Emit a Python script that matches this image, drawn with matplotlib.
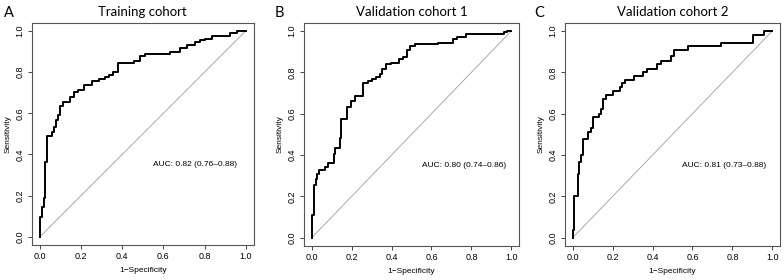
import numpy as np
import matplotlib
matplotlib.use('Agg')
import matplotlib.pyplot as plt

plt.rcParams['font.family'] = ['Liberation Sans', 'DejaVu Sans']

# ROC curves (knots: jump to tpr at fpr)
fpr_a = [0, 0, 0.01, 0.018, 0.024, 0.035, 0.061, 0.069, 0.079, 0.09, 0.097,
         0.11, 0.144, 0.168, 0.187, 0.212, 0.255, 0.286, 0.317, 0.338, 0.355,
         0.379, 0.459, 0.487, 0.511, 0.633, 0.681, 0.714, 0.754, 0.778, 0.802,
         0.835, 0.924, 0.956, 1.0]
tpr_a = [0, 0.097, 0.146, 0.19, 0.364, 0.489, 0.51, 0.534, 0.566, 0.59, 0.634,
         0.657, 0.68, 0.702, 0.712, 0.735, 0.756, 0.767, 0.777, 0.788, 0.80,
         0.845, 0.854, 0.877, 0.89, 0.898, 0.919, 0.932, 0.945, 0.955, 0.963,
         0.976, 0.988, 1.0, 1.0]

fpr_b = [0, 0, 0.011, 0.02, 0.028, 0.036, 0.069, 0.08, 0.11, 0.118,
         0.14, 0.146, 0.176, 0.195, 0.217, 0.255, 0.284, 0.304, 0.324, 0.34,
         0.353, 0.373, 0.397, 0.435, 0.455, 0.479, 0.491, 0.517, 0.635, 0.709,
         0.73, 0.775, 0.964, 0.98, 1.0]
tpr_b = [0, 0.112, 0.253, 0.284, 0.31, 0.326, 0.342, 0.361, 0.405, 0.436,
         0.482, 0.575, 0.631, 0.663, 0.685, 0.75, 0.757, 0.769, 0.778, 0.791,
         0.814, 0.838, 0.846, 0.865, 0.876, 0.91, 0.926, 0.936, 0.942, 0.96,
         0.971, 0.984, 0.995, 1.0, 1.0]

fpr_c = [0, 0, 0.008, 0.026, 0.034, 0.043, 0.051, 0.079, 0.091, 0.104,
         0.133, 0.141, 0.15, 0.166, 0.202, 0.238, 0.246, 0.262, 0.305, 0.35,
         0.37, 0.424, 0.44, 0.49, 0.506, 0.58, 0.744, 0.905, 0.957, 1.0]
tpr_c = [0, 0.037, 0.204, 0.31, 0.364, 0.401, 0.477, 0.509, 0.53, 0.583,
         0.599, 0.621, 0.671, 0.69, 0.711, 0.731, 0.747, 0.762, 0.781, 0.80,
         0.817, 0.838, 0.856, 0.878, 0.907, 0.926, 0.944, 0.98, 1.0, 1.0]

letters = ['A', 'B', 'C']
titles = ['Training cohort', 'Validation cohort 1', 'Validation cohort 2']
auc_texts = ['AUC: 0.82 (0.76\u20130.88)', 'AUC: 0.80 (0.74\u20130.86)',
             'AUC: 0.81 (0.73\u20130.88)']
curves = [(fpr_a, tpr_a), (fpr_b, tpr_b), (fpr_c, tpr_c)]
ticks = [0.0, 0.2, 0.4, 0.6, 0.8, 1.0]

# axes boxes [left, bottom, width, height] in figure fraction
boxes = [[0.0404, 0.125, 0.2836, 0.794],
         [0.3874, 0.1214, 0.275, 0.7975],
         [0.7203, 0.1214, 0.275, 0.7975]]
letter_x = [0.005, 0.350, 0.682]

fig = plt.figure(figsize=(7.84, 2.8), dpi=100)
title_font = 'Lato'

for i in range(3):
    ax = fig.add_axes(boxes[i])
    fpr, tpr = curves[i]
    ax.plot([0, 1], [0, 1], color='#aaaaaa', lw=0.7)
    ax.plot(fpr, tpr, drawstyle='steps-post', color='black', lw=1.4)
    ax.set_xlim(-0.04, 1.04)
    ax.set_ylim(-0.04, 1.04)
    ax.set_xticks(ticks)
    ax.set_yticks(ticks)
    ax.set_xticklabels([f'{t:.1f}' for t in ticks], fontsize=6.5)
    ax.set_yticklabels([f'{t:.1f}' for t in ticks], fontsize=6.5,
                       rotation=90, va='center')
    ax.tick_params(length=3, width=0.7, color='#444444', pad=2)
    for s in ax.spines.values():
        s.set_color('#555555')
        s.set_linewidth(0.8)
    ax.set_xlabel('1\u2212Specificity', fontsize=6, labelpad=4)
    ax.set_ylabel('Sensitivity', fontsize=6, labelpad=3)
    ax.text(0.55, 0.35, auc_texts[i], fontsize=6, ha='left', va='center')
    ax.set_title(titles[i], fontsize=9.5, family=title_font, pad=5)
    fig.text(letter_x[i], 0.955, letters[i], fontsize=10.5, family=title_font,
             ha='left', va='center')

fig.savefig('out.png', dpi=100)
